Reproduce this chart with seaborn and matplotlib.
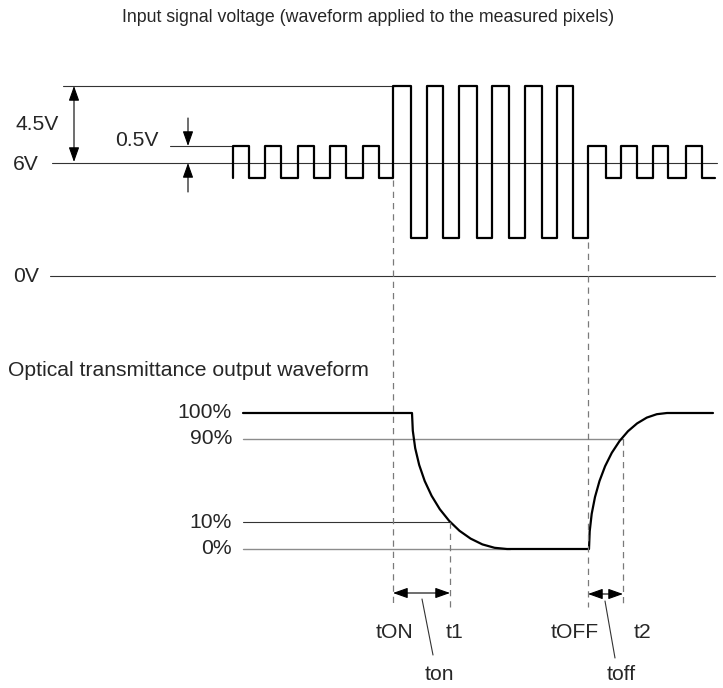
import numpy as np
import pandas as pd
import seaborn as sns
import matplotlib.pyplot as plt

sns.set_theme(style="white")
plt.rcParams['font.family'] = ['Liberation Sans', 'DejaVu Sans']

# square wave drive: edge times and level after each edge
EDGE_T = [233, 249, 265, 281, 298, 314, 330, 346, 363, 379,
          393, 411, 427, 443, 459, 477, 492, 509, 525, 542, 557, 573,
          588, 606, 621, 637, 653, 668, 686, 702]
EDGE_LEVEL = ["H", "L", "H", "L", "H", "L", "H", "L", "H", "L",
              "BH", "BL", "BH", "BL", "BH", "BL", "BH", "BL", "BH", "BL", "BH", "BL",
              "H", "L", "H", "L", "H", "L", "H", "L"]
WAVE_END = 715
LEVEL_Y = {"H": 146, "L": 178, "BH": 86, "BL": 238}
V_LINE_6 = 163
V_LINE_0 = 276

# transmittance output
T_LEVELS = ["100%", "90%", "10%", "0%"]
T_LEVEL_Y = [413, 439, 522, 549]
FALL_X = [412, 412.8, 415.2, 419.2, 424.7, 431.6, 439.8, 449.2, 459.5, 470.6, 482.4, 494.6, 507]
FALL_Y = [413, 430.7, 448.2, 465.0, 481, 495.8, 509.2, 520.9, 530.8, 538.6, 544.4, 547.8, 549]
RISE_X = [589, 589.7, 591.7, 595.0, 599.5, 605.1, 611.8, 619.5, 628, 637.1, 646.8, 656.8, 667]
RISE_Y = [549, 531.3, 513.8, 497, 481, 466.2, 452.8, 441.1, 431.2, 423.4, 417.6, 414.2, 413]
T_START, T_END = 243, 713

# timing marks
T_ON, T_1, T_OFF, T_2 = 393, 450, 588, 623

fig = plt.figure(figsize=(7.23, 6.88), dpi=100)
ax = fig.add_axes([0, 0, 1, 1])
ax.set_xlim(0, 723)
ax.set_ylim(688, 0)
ax.axis("off")

FS = 15.2
thin = dict(color="#333333", lw=0.8)
grey = dict(color="#8c8c8c", lw=1.0)
dash = dict(color="#7a7a7a", lw=0.9, ls=(0, (5, 4)))

# --- input signal ---
ax.text(368, 18, "Input signal voltage (waveform applied to the measured pixels)",
        ha="center", va="center", fontsize=12.8)
ax.plot([63, 395], [86, 86], **thin)
ax.plot([52, 717], [V_LINE_6, V_LINE_6], **thin)
ax.plot([170, 233], [146, 146], **thin)
ax.plot([50, 715], [V_LINE_0, V_LINE_0], **thin)

xs, ys = [EDGE_T[0]], [LEVEL_Y["L"]]
for i, t in enumerate(EDGE_T):
    lv = LEVEL_Y[EDGE_LEVEL[i]]
    nxt = EDGE_T[i + 1] if i + 1 < len(EDGE_T) else WAVE_END
    xs += [t, nxt]
    ys += [lv, lv]
wave = pd.DataFrame({"t": xs, "v": ys})
sns.lineplot(data=wave, x="t", y="v", sort=False, estimator=None, color="black", lw=1.6, ax=ax)

one = "-|>,head_length=0.9,head_width=0.32"
two = "<|-|>,head_length=0.9,head_width=0.32"
arr = dict(arrowstyle=one, color="black", lw=0.8, mutation_scale=10, shrinkA=0, shrinkB=0)
ax.annotate("", xy=(74, 86), xytext=(74, 162),
            arrowprops=dict(arr, arrowstyle=two))
ax.annotate("", xy=(188, 146), xytext=(188, 118), arrowprops=arr)
ax.annotate("", xy=(188, 163), xytext=(188, 192), arrowprops=arr)
ax.text(16, 125, "4.5V", ha="left", va="center", fontsize=FS)
ax.text(115, 141, "0.5V", ha="left", va="center", fontsize=FS)
ax.text(13, 165, "6V", ha="left", va="center", fontsize=FS)
ax.text(13, 277, "0V", ha="left", va="center", fontsize=FS)

# --- transmittance ---
ax.text(8, 371, "Optical transmittance output waveform", ha="left", va="center", fontsize=FS)
ax.plot([T_START, T_2], [T_LEVEL_Y[1]] * 2, **grey)
ax.plot([T_START, T_1], [T_LEVEL_Y[2]] * 2, **thin)
ax.plot([T_START, 510], [T_LEVEL_Y[3]] * 2, **grey)
for lab, y in zip(T_LEVELS, T_LEVEL_Y):
    ax.text(232, y, lab, ha="right", va="center", fontsize=FS)

opt_x = [T_START] + FALL_X + RISE_X + [T_END]
opt_y = [T_LEVEL_Y[0]] + FALL_Y + RISE_Y + [T_LEVEL_Y[0]]
opt = pd.DataFrame({"t": opt_x, "T": opt_y})
sns.lineplot(data=opt, x="t", y="T", sort=False, estimator=None, color="black", lw=1.6, ax=ax)

ax.plot([T_ON, T_ON], [180, 607], **dash)
ax.plot([T_OFF, T_OFF], [242, 607], **dash)
ax.plot([T_1, T_1], [522, 607], **dash)
ax.plot([T_2, T_2], [439, 607], **dash)

ax.annotate("", xy=(T_ON, 593), xytext=(T_1, 593), arrowprops=dict(arr, arrowstyle=two))
ax.annotate("", xy=(T_OFF, 594), xytext=(T_2, 594), arrowprops=dict(arr, arrowstyle=two))
ax.plot([422, 433], [599, 655], **thin)
ax.plot([605, 615], [601, 658], **thin)

ax.text(395, 632, "tON", ha="center", va="center", fontsize=FS)
ax.text(454, 632, "t1", ha="center", va="center", fontsize=FS)
ax.text(575, 632, "tOFF", ha="center", va="center", fontsize=FS)
ax.text(643, 632, "t2", ha="center", va="center", fontsize=FS)
ax.text(439, 675, "ton", ha="center", va="center", fontsize=FS)
ax.text(621, 675, "toff", ha="center", va="center", fontsize=FS)

fig.savefig("out.png", dpi=100)
